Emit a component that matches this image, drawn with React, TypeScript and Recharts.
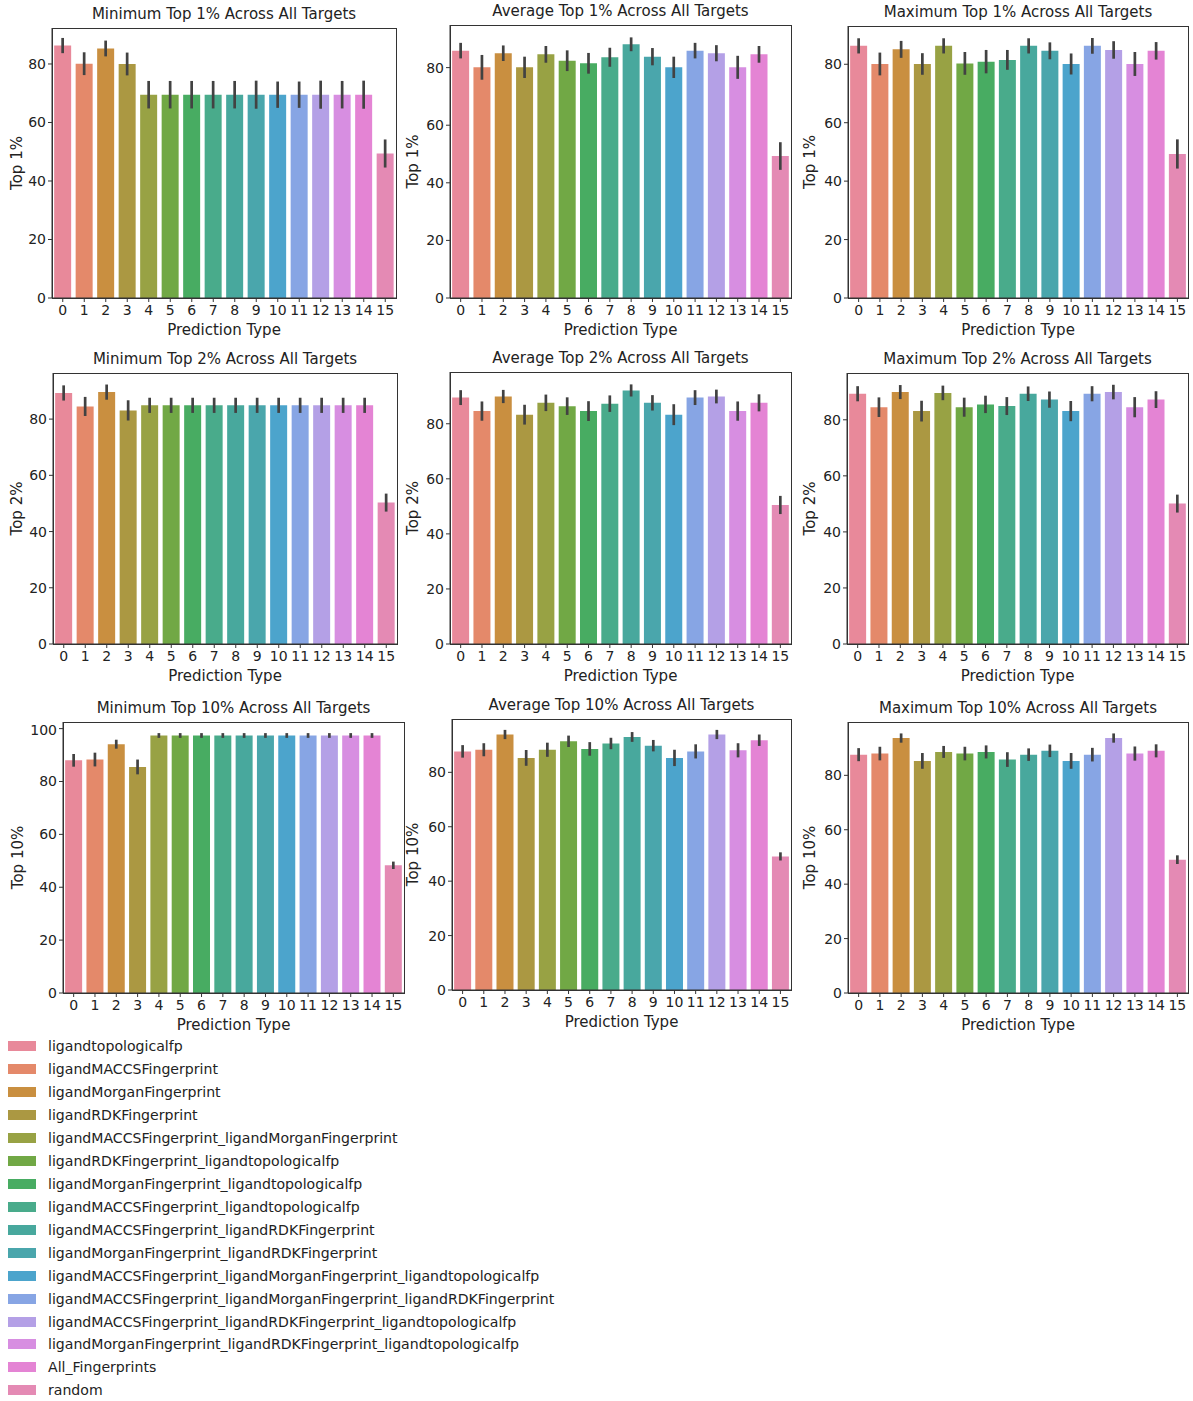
import { Bar, BarChart, Cell, ErrorBar, XAxis, YAxis } from "recharts";

const predictionTypes = ["0", "1", "2", "3", "4", "5", "6", "7", "8", "9", "10", "11", "12", "13", "14", "15"];

const fingerprintNames = [
  "ligandtopologicalfp",
  "ligandMACCSFingerprint",
  "ligandMorganFingerprint",
  "ligandRDKFingerprint",
  "ligandMACCSFingerprint_ligandMorganFingerprint",
  "ligandRDKFingerprint_ligandtopologicalfp",
  "ligandMorganFingerprint_ligandtopologicalfp",
  "ligandMACCSFingerprint_ligandtopologicalfp",
  "ligandMACCSFingerprint_ligandRDKFingerprint",
  "ligandMorganFingerprint_ligandRDKFingerprint",
  "ligandMACCSFingerprint_ligandMorganFingerprint_ligandtopologicalfp",
  "ligandMACCSFingerprint_ligandMorganFingerprint_ligandRDKFingerprint",
  "ligandMACCSFingerprint_ligandRDKFingerprint_ligandtopologicalfp",
  "ligandMorganFingerprint_ligandRDKFingerprint_ligandtopologicalfp",
  "All_Fingerprints",
  "random",
];

const barColors = [
  "#e8899a", "#e4896a", "#c98f40", "#ab9842", "#98a244", "#71a845", "#48ac62", "#49ab8b",
  "#48a89d", "#4aa6ac", "#4ca4cc", "#87a5e4", "#b4a0e6", "#d78ee1", "#e484d4", "#e48ab4",
];

// Top 1%
const minTop1 = [86.3, 80.1, 85.3, 80.0, 69.5, 69.5, 69.5, 69.5, 69.5, 69.5, 69.5, 69.5, 69.5, 69.5, 69.5, 49.4];
const minTop1Err = [2.6, 3.9, 2.7, 3.9, 4.7, 4.7, 4.7, 4.7, 4.7, 4.8, 4.5, 4.5, 4.8, 4.7, 4.8, 4.8];
const avgTop1 = [85.9, 80.1, 85.0, 80.1, 84.6, 82.4, 81.5, 83.6, 88.1, 83.8, 80.1, 85.9, 85.0, 80.1, 84.6, 49.3];
const avgTop1Err = [2.7, 4.3, 2.7, 3.7, 2.9, 3.6, 3.6, 3.3, 2.4, 3.0, 3.7, 2.7, 2.8, 4.0, 2.9, 4.8];
const maxTop1 = [86.3, 80.1, 85.1, 80.1, 86.3, 80.3, 80.9, 81.5, 86.3, 84.6, 80.1, 86.3, 84.9, 80.1, 84.6, 49.3];
const maxTop1Err = [2.6, 3.9, 2.9, 3.7, 2.6, 3.9, 4.0, 3.4, 2.6, 2.9, 3.6, 2.7, 3.0, 4.1, 3.0, 5.0];

// Top 2%
const minTop2 = [89.3, 84.5, 89.6, 83.1, 84.9, 84.9, 84.9, 84.9, 84.9, 84.9, 84.9, 84.9, 84.9, 84.9, 84.9, 50.3];
const minTop2Err = [2.7, 3.4, 2.7, 3.6, 2.7, 2.7, 2.7, 2.7, 2.7, 2.7, 2.7, 2.7, 2.7, 2.7, 2.7, 3.2];
const avgTop2 = [89.5, 84.6, 89.9, 83.3, 87.6, 86.4, 84.6, 87.3, 92.1, 87.6, 83.3, 89.5, 89.9, 84.6, 87.6, 50.5];
const avgTop2Err = [2.7, 3.5, 2.4, 3.6, 3.0, 3.2, 3.6, 3.0, 2.2, 2.8, 3.8, 2.7, 2.5, 3.5, 3.1, 3.3];
const maxTop2 = [89.3, 84.5, 89.9, 83.1, 89.6, 84.5, 85.5, 84.9, 89.3, 87.2, 83.1, 89.3, 89.9, 84.5, 87.2, 50.1];
const maxTop2Err = [2.7, 3.5, 2.5, 3.7, 2.6, 3.4, 3.1, 3.2, 2.6, 2.9, 3.6, 2.7, 2.6, 3.6, 3.0, 3.2];

// Top 10%
const minTop10 = [88.0, 88.3, 94.1, 85.5, 97.4, 97.4, 97.4, 97.4, 97.4, 97.4, 97.4, 97.4, 97.4, 97.4, 97.4, 48.3];
const minTop10Err = [2.4, 2.6, 1.7, 2.8, 0.9, 0.9, 0.9, 0.9, 0.9, 0.9, 0.9, 0.9, 0.9, 0.9, 0.9, 1.4];
const avgTop10 = [87.7, 88.3, 93.9, 85.3, 88.3, 91.4, 88.6, 90.6, 93.0, 89.8, 85.3, 87.7, 93.9, 88.1, 91.8, 49.1];
const avgTop10Err = [2.3, 2.4, 1.7, 2.9, 2.6, 2.1, 2.5, 2.1, 1.8, 2.1, 3.0, 2.6, 1.7, 2.6, 2.1, 1.5];
const maxTop10 = [87.6, 88.0, 93.7, 85.3, 88.6, 88.0, 88.6, 85.8, 87.6, 89.0, 85.3, 87.6, 93.7, 88.0, 89.0, 49.0];
const maxTop10Err = [2.4, 2.5, 1.7, 2.9, 2.2, 2.5, 2.4, 2.7, 2.3, 2.3, 2.9, 2.5, 1.7, 2.6, 2.4, 1.6];

const ticks80 = [0, 20, 40, 60, 80];
const ticks100 = [0, 20, 40, 60, 80, 100];

const FONT = '"DejaVu Sans", sans-serif';
const INK = "#222";
const AXIS = "#333";
const YW = 58; // room for y tick labels + y label

type PanelProps = {
  title: string;
  yLabel: string;
  values: number[];
  errors: number[];
  box: [number, number, number, number]; // plot area x0, y0, x1, y1
  yMax: number;
  yTicks: number[];
  labelGap?: number;
};

const Panel = ({ title, yLabel, values, errors, box, yMax, yTicks, labelGap = 37 }: PanelProps) => {
  const [x0, y0, x1, y1] = box;
  const w = x1 - x0;
  const h = y1 - y0;
  const data = predictionTypes.map((t, i) => ({ type: t, value: values[i], err: errors[i] }));

  return (
    <>
      <div
        style={{
          position: "absolute",
          left: x0 - 20,
          top: y0 - 23,
          width: w + 40,
          textAlign: "center",
          fontSize: 15,
          lineHeight: "18px",
          color: INK,
          whiteSpace: "nowrap",
        }}
      >
        {title}
      </div>
      <div style={{ position: "absolute", left: x0 - YW, top: y0 }}>
        <BarChart
          width={w + YW + 4}
          height={h + 45}
          data={data}
          margin={{ top: 0, right: 4, left: 0, bottom: 0 }}
          barCategoryGap="10%"
        >
          <XAxis
            dataKey="type"
            height={45}
            interval={0}
            tickSize={4}
            tickMargin={3}
            tickLine={{ stroke: AXIS }}
            axisLine={{ stroke: AXIS }}
            tick={{ fill: INK, fontSize: 14, fontFamily: FONT }}
            label={({ viewBox }: any) => (
              <text
                x={viewBox.x + viewBox.width / 2}
                y={viewBox.y + 32}
                textAnchor="middle"
                dominantBaseline="central"
                fontSize={15}
                fill={INK}
                fontFamily={FONT}
              >
                Prediction Type
              </text>
            )}
          />
          <YAxis
            width={YW}
            domain={[0, yMax]}
            ticks={yTicks}
            allowDataOverflow
            tickSize={4}
            tickMargin={2}
            tickLine={{ stroke: AXIS }}
            axisLine={{ stroke: AXIS }}
            tick={{ fill: INK, fontSize: 14, fontFamily: FONT }}
            label={({ viewBox }: any) => {
              const lx = viewBox.x + YW - labelGap;
              const ly = viewBox.y + viewBox.height / 2;
              return (
                <text
                  x={lx}
                  y={ly}
                  transform={`rotate(-90, ${lx}, ${ly})`}
                  textAnchor="middle"
                  dominantBaseline="central"
                  fontSize={15}
                  fill={INK}
                  fontFamily={FONT}
                >
                  {yLabel}
                </text>
              );
            }}
          />
          <Bar dataKey="value" isAnimationActive={false}>
            {data.map((d, i) => (
              <Cell key={d.type} fill={barColors[i]} />
            ))}
            <ErrorBar dataKey="err" width={0} stroke="#424242" strokeWidth={2.7} direction="y" />
          </Bar>
        </BarChart>
      </div>
      {/* axes frame (matplotlib spines) */}
      <div
        style={{
          position: "absolute",
          left: x0 - 0.5,
          top: y0 - 0.5,
          width: w + 1,
          height: h + 1,
          boxSizing: "border-box",
          border: `1px solid ${AXIS}`,
          pointerEvents: "none",
        }}
      />
    </>
  );
};

export default function App() {
  return (
    <div
      style={{
        position: "absolute",
        left: 0,
        top: 0,
        width: 1193,
        height: 1401,
        background: "#fff",
        fontFamily: FONT,
      }}
    >
      <Panel title="Minimum Top 1% Across All Targets" yLabel="Top 1%" values={minTop1} errors={minTop1Err} box={[52, 28, 396, 298]} yMax={92.3} yTicks={ticks80} labelGap={35} />
      <Panel title="Average Top 1% Across All Targets" yLabel="Top 1%" values={avgTop1} errors={avgTop1Err} box={[450, 25, 791, 298]} yMax={94.8} yTicks={ticks80} />
      <Panel title="Maximum Top 1% Across All Targets" yLabel="Top 1%" values={maxTop1} errors={maxTop1Err} box={[848, 26, 1188, 298]} yMax={93.1} yTicks={ticks80} labelGap={38} />

      <Panel title="Minimum Top 2% Across All Targets" yLabel="Top 2%" values={minTop2} errors={minTop2Err} box={[53, 373, 397, 644]} yMax={96.4} yTicks={ticks80} labelGap={36} />
      <Panel title="Average Top 2% Across All Targets" yLabel="Top 2%" values={avgTop2} errors={avgTop2Err} box={[450, 372, 791, 644]} yMax={98.8} yTicks={ticks80} />
      <Panel title="Maximum Top 2% Across All Targets" yLabel="Top 2%" values={maxTop2} errors={maxTop2Err} box={[847, 373, 1188, 644]} yMax={96.7} yTicks={ticks80} />

      <Panel title="Minimum Top 10% Across All Targets" yLabel="Top 10%" values={minTop10} errors={minTop10Err} box={[63, 722, 404, 993]} yMax={102.5} yTicks={ticks100} labelGap={45} />
      <Panel title="Average Top 10% Across All Targets" yLabel="Top 10%" values={avgTop10} errors={avgTop10Err} box={[452, 719, 791, 990]} yMax={99.6} yTicks={ticks80} labelGap={39} />
      <Panel title="Maximum Top 10% Across All Targets" yLabel="Top 10%" values={maxTop10} errors={maxTop10Err} box={[848, 722, 1188, 993]} yMax={99.6} yTicks={ticks80} labelGap={38} />

      <div style={{ position: "absolute", left: 8, top: 1035, fontSize: 14.1, color: INK }}>
        {fingerprintNames.map((name, i) => (
          <div key={name} style={{ height: 22.93, display: "flex", alignItems: "center", whiteSpace: "nowrap" }}>
            <span style={{ display: "inline-block", width: 28, height: 10, background: barColors[i], marginRight: 12 }} />
            <span>{name}</span>
          </div>
        ))}
      </div>
    </div>
  );
}
